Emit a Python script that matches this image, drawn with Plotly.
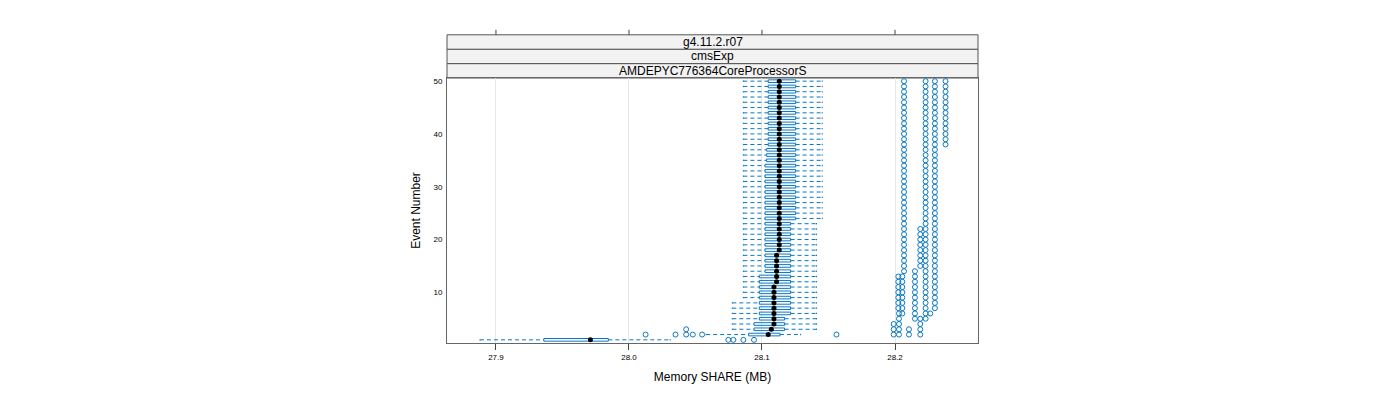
import plotly.graph_objects as go

# ---- data (one box per event) ----
events = list(range(1, 51))

lo = [27.888, 28.058, 28.0777, 28.0777, 28.0777, 28.0777, 28.0777, 28.0777, 28.086, 28.086,
      28.086, 28.086, 28.086, 28.086, 28.086, 28.086, 28.086, 28.086, 28.086, 28.086,
      28.086, 28.086, 28.086, 28.086, 28.086, 28.086, 28.086, 28.086, 28.086, 28.086,
      28.086, 28.086, 28.086, 28.086, 28.086, 28.086, 28.086, 28.086, 28.086, 28.086,
      28.086, 28.086, 28.086, 28.086, 28.086, 28.086, 28.086, 28.086, 28.086, 28.086]

q1 = [27.936, 28.090, 28.094, 28.094, 28.098, 28.098, 28.098, 28.098, 28.098, 28.098,
      28.098, 28.098, 28.098, 28.1023, 28.1023, 28.1023, 28.1023, 28.1023, 28.1023, 28.1023,
      28.1023, 28.1023, 28.1023, 28.1023, 28.1023, 28.1023, 28.1023, 28.1023, 28.1023, 28.1023,
      28.1023, 28.1023, 28.1023, 28.1023, 28.1035, 28.1035, 28.1035, 28.1047, 28.1047, 28.1047,
      28.1047, 28.1047, 28.1047, 28.1047, 28.1047, 28.1047, 28.1047, 28.1047, 28.1047, 28.1047]

med = [27.971, 28.1047, 28.107, 28.109, 28.109, 28.109, 28.109, 28.109, 28.109, 28.109,
       28.109, 28.111, 28.111, 28.111, 28.111, 28.111, 28.111, 28.113, 28.113, 28.113,
       28.113, 28.113, 28.113, 28.113, 28.113, 28.113, 28.113, 28.113, 28.113, 28.113,
       28.113, 28.113, 28.113, 28.113, 28.113, 28.113, 28.113, 28.113, 28.113, 28.113,
       28.113, 28.113, 28.113, 28.113, 28.113, 28.113, 28.113, 28.113, 28.113, 28.113]

q3 = [27.9845, 28.1135, 28.117, 28.117, 28.117, 28.1215, 28.1215, 28.1215, 28.1215, 28.1215,
      28.1215, 28.1215, 28.1215, 28.1215, 28.1215, 28.1215, 28.1215, 28.1215, 28.1215, 28.1215,
      28.1215, 28.1215, 28.1215, 28.1253, 28.1253, 28.1253, 28.1253, 28.1253, 28.1253, 28.1253,
      28.1253, 28.1253, 28.1253, 28.1253, 28.1253, 28.1253, 28.1253, 28.1253, 28.1253, 28.1253,
      28.1253, 28.1253, 28.1253, 28.1253, 28.1253, 28.1253, 28.1253, 28.1253, 28.1253, 28.1253]

hi = [28.031, 28.129, 28.141, 28.141, 28.141, 28.141, 28.141, 28.141, 28.141, 28.141,
      28.141, 28.141, 28.141, 28.141, 28.141, 28.141, 28.141, 28.141, 28.141, 28.141,
      28.141, 28.141, 28.141, 28.1453, 28.1453, 28.1453, 28.1453, 28.1453, 28.1453, 28.1453,
      28.1453, 28.1453, 28.1453, 28.1453, 28.1453, 28.1453, 28.1453, 28.1453, 28.1453, 28.1453,
      28.1453, 28.1453, 28.1453, 28.1453, 28.1453, 28.1453, 28.1453, 28.1453, 28.1453, 28.1453]

outliers = [
    [28.0747, 28.0785, 28.086, 28.094],                                              # 1
    [28.0125, 28.035, 28.043, 28.048, 28.055, 28.156, 28.199, 28.203, 28.2105, 28.219],  # 2
    [28.043, 28.199, 28.203, 28.2105, 28.219],                                       # 3
    [28.199, 28.203, 28.219],                                                        # 4
    [28.203, 28.215, 28.219, 28.223],                                                # 5
    [28.203, 28.2055, 28.215, 28.223, 28.2265],                                      # 6
    [28.2025, 28.2055, 28.215, 28.223, 28.230],                                      # 7
    [28.2025, 28.2055, 28.215, 28.223, 28.230],                                      # 8
    [28.2025, 28.2055, 28.215, 28.223, 28.230],                                      # 9
    [28.2025, 28.2055, 28.215, 28.223, 28.230],                                      # 10
    [28.2025, 28.2055, 28.215, 28.223, 28.230],                                      # 11
    [28.2025, 28.2055, 28.215, 28.223, 28.230],                                      # 12
    [28.2025, 28.2055, 28.215, 28.223, 28.230],                                      # 13
    [28.2068, 28.215, 28.223, 28.230],                                               # 14
    [28.2068, 28.219, 28.223, 28.230],                                               # 15
    [28.2068, 28.219, 28.223, 28.230],                                               # 16
    [28.2068, 28.219, 28.223, 28.230],                                               # 17
    [28.2068, 28.219, 28.223, 28.230],                                               # 18
    [28.2068, 28.219, 28.223, 28.230],                                               # 19
    [28.2068, 28.219, 28.223, 28.230],                                               # 20
    [28.2068, 28.219, 28.223, 28.230],                                               # 21
    [28.2068, 28.219, 28.223, 28.230],                                               # 22
    [28.2068, 28.223, 28.230],                                                       # 23
    [28.2068, 28.223, 28.230],                                                       # 24
    [28.2068, 28.223, 28.230],                                                       # 25
    [28.2068, 28.223, 28.230],                                                       # 26
    [28.2068, 28.223, 28.230],                                                       # 27
    [28.2068, 28.223, 28.230],                                                       # 28
    [28.2068, 28.223, 28.230],                                                       # 29
    [28.2068, 28.223, 28.230],                                                       # 30
    [28.2068, 28.223, 28.230],                                                       # 31
    [28.2068, 28.223, 28.230],                                                       # 32
    [28.2068, 28.223, 28.230],                                                       # 33
    [28.2068, 28.223, 28.230],                                                       # 34
    [28.2068, 28.223, 28.230],                                                       # 35
    [28.2068, 28.223, 28.230],                                                       # 36
    [28.2068, 28.223, 28.230],                                                       # 37
    [28.2068, 28.223, 28.230, 28.238],                                               # 38
    [28.2068, 28.223, 28.230, 28.238],                                               # 39
    [28.2068, 28.223, 28.230, 28.238],                                               # 40
    [28.2068, 28.223, 28.230, 28.238],                                               # 41
    [28.2068, 28.223, 28.230, 28.238],                                               # 42
    [28.2068, 28.223, 28.230, 28.238],                                               # 43
    [28.2068, 28.223, 28.230, 28.238],                                               # 44
    [28.2068, 28.223, 28.230, 28.238],                                               # 45
    [28.2068, 28.223, 28.230, 28.238],                                               # 46
    [28.2068, 28.223, 28.230, 28.238],                                               # 47
    [28.2068, 28.223, 28.230, 28.238],                                               # 48
    [28.2068, 28.223, 28.230, 28.238],                                               # 49
    [28.2068, 28.223, 28.230, 28.238],                                               # 50
]

x_ticks = [27.9, 28.0, 28.1, 28.2]
x_ticklabels = ["27.9", "28.0", "28.1", "28.2"]
y_ticks = [10, 20, 30, 40, 50]
strips = ["g4.11.2.r07", "cmsExp", "AMDEPYC776364CoreProcessorS"]

BLUE = "#0a78c2"
FONT = "Liberation Sans, Arial, sans-serif"
half_box = 0.25
half_cap = 0.13

# build the lattice-style pieces from the arrays
wx, wy, cx, cy, bx, by = [], [], [], [], [], []
for e, a, b, m, c, d in zip(events, lo, q1, med, q3, hi):
    wx += [a, b, None, c, d, None]
    wy += [e, e, None, e, e, None]
    cx += [a, a, None, d, d, None]
    cy += [e - half_cap, e + half_cap, None, e - half_cap, e + half_cap, None]
    bx += [b, c, c, b, b, None]
    by += [e - half_box, e - half_box, e + half_box, e + half_box, e - half_box, None]

ox, oy = [], []
for e, vals in zip(events, outliers):
    for v in vals:
        ox.append(v)
        oy.append(e)

fig = go.Figure()
fig.add_trace(go.Scatter(x=wx, y=wy, mode="lines", line=dict(color=BLUE, width=1, dash="4px,3px"),
                         hoverinfo="skip", showlegend=False))
fig.add_trace(go.Scatter(x=cx, y=cy, mode="lines", line=dict(color=BLUE, width=1),
                         hoverinfo="skip", showlegend=False))
fig.add_trace(go.Scatter(x=bx, y=by, mode="lines", line=dict(color=BLUE, width=1),
                         hoverinfo="skip", showlegend=False))
fig.add_trace(go.Scatter(x=med, y=events, mode="markers",
                         marker=dict(color="black", size=5, line=dict(width=0)),
                         showlegend=False))
fig.add_trace(go.Scatter(x=ox, y=oy, mode="markers",
                         marker=dict(symbol="circle-open", color=BLUE, size=5, line=dict(width=1, color=BLUE)),
                         showlegend=False))

# strips above the panel (lattice style)
plot_h = 265.0
strip_h = 14.4
shapes = []
annotations = []
for i, s in enumerate(reversed(strips)):
    y0 = 1 + i * strip_h / plot_h
    y1 = 1 + (i + 1) * strip_h / plot_h
    shapes.append(dict(type="rect", xref="paper", yref="paper", x0=0, x1=1, y0=y0, y1=y1,
                       fillcolor="#f2f2f2", line=dict(color="#555555", width=1), layer="below"))
    annotations.append(dict(text=s, xref="paper", yref="paper", x=0.5, y=(y0 + y1) / 2,
                            showarrow=False, font=dict(family=FONT, size=12, color="black"),
                            xanchor="center", yanchor="middle"))

# tick marks on top of the strips
top = 1 + 3 * strip_h / plot_h
for t in x_ticks:
    shapes.append(dict(type="line", xref="x", yref="paper", x0=t, x1=t, y0=top, y1=top + 5 / plot_h,
                       line=dict(color="#444444", width=1)))

# page body has an 8px margin, so the panel is shifted back by 8px
fig.update_layout(
    width=1400, height=400,
    margin=dict(l=439, r=430, t=70, b=65, autoexpand=False),
    paper_bgcolor="white", plot_bgcolor="white",
    shapes=shapes, annotations=annotations,
    xaxis=dict(range=[27.8632, 28.2624], tickvals=x_ticks, ticktext=x_ticklabels,
               showgrid=True, gridcolor="#e6e6e6", gridwidth=1, zeroline=False,
               showline=True, mirror=True, linecolor="#666666", linewidth=1,
               ticks="outside", ticklen=6, tickcolor="#444444",
               tickfont=dict(family=FONT, size=8, color="black"),
               title=dict(text="Memory SHARE (MB)", font=dict(family=FONT, size=12, color="black"),
                          standoff=12)),
    yaxis=dict(range=[0.4, 50.6], tickvals=y_ticks, showgrid=False, zeroline=False,
               showline=True, mirror=True, linecolor="#666666", linewidth=1,
               ticks="outside", ticklen=2, tickcolor="rgba(0,0,0,0)",
               tickfont=dict(family=FONT, size=8, color="black"),
               title=dict(text="Event Number", font=dict(family=FONT, size=12, color="black"),
                          standoff=10)),
)

fig.write_html("out.html")
